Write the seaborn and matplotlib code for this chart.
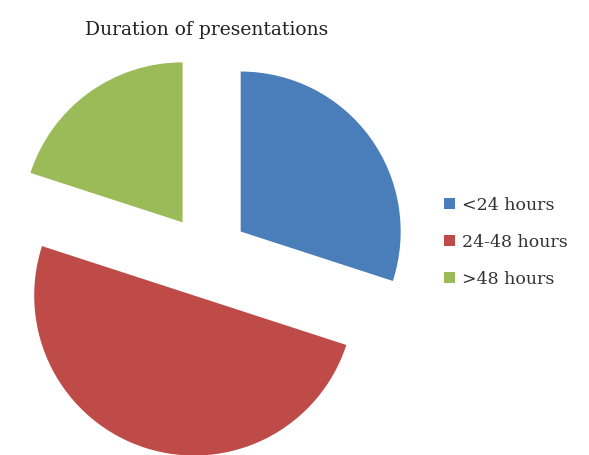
import matplotlib
matplotlib.use("Agg")
import matplotlib.pyplot as plt
import seaborn as sns

categories = ["<24 hours", "24-48 hours", ">48 hours"]
shares = [30, 50, 20]
colors = ["#4A7EBB", "#BE4B48", "#9BBB59"]
title = "Duration of presentations"

sns.set_style("white")
plt.rcParams["font.family"] = ["DejaVu Serif"]

fig = plt.figure(figsize=(5.89, 4.55), dpi=100)
ax = fig.add_axes([0, 0, 1, 1])
palette = sns.color_palette(colors)

wedges, _ = ax.pie(shares, colors=palette, startangle=90, counterclock=False,
                   explode=[0.26] * len(shares), radius=1.0,
                   wedgeprops=dict(linewidth=0))
ax.set_xlim(-1.294, 2.3875)
ax.set_ylim(-1.244, 1.6)
ax.set_aspect("equal")
ax.axis("off")

ax.text(0.0, 1.41, title, ha="center", va="center", fontsize=13.5, color="#222222")

leg = ax.legend(wedges, categories, loc="center left", bbox_to_anchor=(0.728, 0.468),
                frameon=False, fontsize=12.5, handlelength=0.6, handleheight=0.6,
                handletextpad=0.4, labelspacing=1.15)
for t in leg.get_texts():
    t.set_color("#333333")

fig.savefig("out.png", dpi=100)
